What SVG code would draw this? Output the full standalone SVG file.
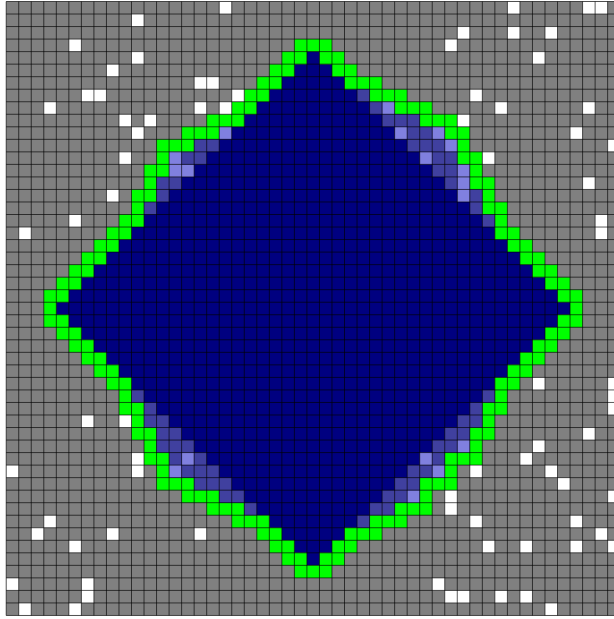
<svg xmlns="http://www.w3.org/2000/svg" width="614" height="619" viewBox="0 0 614 619">
<style>
.bg{fill:#fff}
.gray{fill:#808080}
.n{fill:#000080}
.g{fill:#00ff00}
.s{fill:#40409f}
.l{fill:#8080df}
.w{fill:#fff}
.grid{fill:none;stroke:#000;stroke-opacity:0.65;stroke-width:1}
</style>
<rect class="bg" x="0" y="0" width="614" height="619"/>
<g id="board" transform="translate(6.2,1.5) scale(12.53)">
<rect id="field" class="gray" x="0" y="0" width="49" height="49"/>
<path id="interior" class="n" d="M24 4h1v1h-1z M23 5h3v1h-3z M22 6h5v1h-5z M21 7h8v1h-8z M20 8h11v1h-11z M19 9h14v1h-14z M17 10h18v1h-18z M15 11h21v1h-21z M13 12h23v1h-23z M13 13h24v1h-24z M12 14h25v1h-25z M12 15h26v1h-26z M11 16h27v1h-27z M11 17h28v1h-28z M10 18h29v1h-29z M9 19h31v1h-31z M8 20h33v1h-33z M7 21h35v1h-35z M6 22h37v1h-37z M5 23h39v1h-39z M4 24h41v1h-41z M5 25h39v1h-39z M6 26h37v1h-37z M7 27h35v1h-35z M8 28h33v1h-33z M9 29h31v1h-31z M10 30h29v1h-29z M10 31h29v1h-29z M11 32h27v1h-27z M11 33h27v1h-27z M12 34h25v1h-25z M12 35h25v1h-25z M13 36h22v1h-22z M13 37h22v1h-22z M15 38h18v1h-18z M17 39h16v1h-16z M19 40h12v1h-12z M21 41h8v1h-8z M22 42h5v1h-5z M23 43h3v1h-3z M24 44h1v1h-1z"/>
<path id="border" class="g" d="M23 3h3v1h-3z
M22 4h2v1h-2z M25 4h2v1h-2z
M21 5h2v1h-2z M26 5h2v1h-2z
M20 6h2v1h-2z M27 6h3v1h-3z
M19 7h2v1h-2z M29 7h3v1h-3z
M18 8h2v1h-2z M31 8h3v1h-3z
M16 9h3v1h-3z M33 9h3v1h-3z
M14 10h3v1h-3z M35 10h2v1h-2z
M12 11h3v1h-3z M36 11h1v1h-1z
M12 12h1v1h-1z M36 12h2v1h-2z
M11 13h2v1h-2z M37 13h1v1h-1z
M11 14h1v1h-1z M37 14h2v1h-2z
M10 15h2v1h-2z M38 15h1v1h-1z
M10 16h1v1h-1z M38 16h2v1h-2z
M9 17h2v1h-2z M39 17h1v1h-1z
M8 18h2v1h-2z M39 18h2v1h-2z
M7 19h2v1h-2z M40 19h2v1h-2z
M6 20h2v1h-2z M41 20h2v1h-2z
M5 21h2v1h-2z M42 21h2v1h-2z
M4 22h2v1h-2z M43 22h2v1h-2z
M3 23h2v1h-2z M44 23h2v1h-2z
M3 24h1v1h-1z M45 24h1v1h-1z
M3 25h2v1h-2z M44 25h2v1h-2z
M4 26h2v1h-2z M43 26h2v1h-2z
M5 27h2v1h-2z M42 27h2v1h-2z
M6 28h2v1h-2z M41 28h2v1h-2z
M7 29h2v1h-2z M40 29h2v1h-2z
M8 30h2v1h-2z M39 30h2v1h-2z
M9 31h1v1h-1z M39 31h1v1h-1z
M9 32h2v1h-2z M38 32h2v1h-2z
M10 33h1v1h-1z M38 33h1v1h-1z
M10 34h2v1h-2z M37 34h2v1h-2z
M11 35h1v1h-1z M37 35h1v1h-1z
M11 36h2v1h-2z M35 36h3v1h-3z
M12 37h1v1h-1z M35 37h1v1h-1z
M12 38h3v1h-3z M33 38h3v1h-3z
M14 39h3v1h-3z M33 39h1v1h-1z
M16 40h3v1h-3z M31 40h3v1h-3z
M18 41h3v1h-3z M29 41h3v1h-3z
M20 42h2v1h-2z M27 42h3v1h-3z
M21 43h2v1h-2z M26 43h2v1h-2z
M22 44h2v1h-2z M25 44h2v1h-2z
M23 45h3v1h-3z"/>
<path id="band-dark" class="s" d="M28 7h1v1h-1z M29 8h1v1h-1z M30 9h3v1h-3z M32 10h2v1h-2z M15 11h2v1h-2z M32 11h3v1h-3z M14 12h2v1h-2z M34 12h2v1h-2z M34 13h2v1h-2z M12 14h2v1h-2z M35 14h1v1h-1z M12 15h1v1h-1z M37 15h1v1h-1z M11 16h1v1h-1z M37 16h1v1h-1z M38 17h1v1h-1z
M10 31h1v1h-1z M38 31h1v1h-1z M11 32h1v1h-1z M37 32h1v1h-1z M11 33h2v1h-2z M36 33h2v1h-2z M12 34h2v1h-2z M35 34h2v1h-2z M12 35h3v1h-3z M34 35h2v1h-2z M13 36h1v1h-1z M15 36h1v1h-1z M34 36h1v1h-1z M14 37h3v1h-3z M32 37h2v1h-2z M15 38h3v1h-3z M31 38h2v1h-2z M17 39h2v1h-2z M30 39h2v1h-2z M19 40h1v1h-1z M29 40h2v1h-2z M28 41h1v1h-1z"/>
<path id="band-light" class="l" d="M30 8h1v1h-1z M17 10h1v1h-1z M31 10h1v1h-1z M34 10h1v1h-1z M35 11h1v1h-1z M13 12h1v1h-1z M33 12h1v1h-1z M13 13h2v1h-2z M36 13h1v1h-1z M36 14h1v1h-1z M36 15h1v1h-1z M36 35h1v1h-1z M14 36h1v1h-1z M33 36h1v1h-1z M13 37h1v1h-1z M34 37h1v1h-1z M32 39h1v1h-1z"/>
<path id="free" class="w" d="M17 0h1v1h-1z M40 0h1v1h-1z M46 0h2v1h-2z
M10 1h1v1h-1z
M36 2h1v1h-1z M40 2h1v1h-1z M43 2h1v1h-1z
M5 3h1v1h-1z M35 3h1v1h-1z
M10 4h1v1h-1z M42 4h1v1h-1z
M8 5h1v1h-1z
M15 6h2v1h-2z
M6 7h2v1h-2z M18 7h1v1h-1z M37 7h1v1h-1z
M3 8h1v1h-1z M15 8h1v1h-1z M17 8h1v1h-1z M39 8h1v1h-1z M46 8h1v1h-1z
M9 9h1v1h-1z M11 9h1v1h-1z M36 9h1v1h-1z
M10 10h1v1h-1z M45 10h1v1h-1z
M48 11h1v1h-1z
M9 12h1v1h-1z M38 12h1v1h-1z
M46 14h1v1h-1z
M8 15h1v1h-1z
M5 17h1v1h-1z M47 17h1v1h-1z
M1 18h1v1h-1z M47 18h1v1h-1z
M42 30h1v1h-1z M48 30h1v3h-1z
M6 33h1v1h-1z M9 33h1v1h-1z
M46 34h1v1h-1z
M42 35h1v1h-1z
M10 36h1v1h-1z M41 36h1v1h-1z
M0 37h1v1h-1z M10 37h1v1h-1z M37 37h1v1h-1z M43 37h1v1h-1z
M44 38h1v1h-1z
M35 39h1v1h-1z M48 39h1v1h-1z
M35 40h1v1h-1z
M3 41h1v1h-1z M37 41h1v1h-1z M45 41h1v1h-1z
M2 42h1v1h-1z M8 42h1v1h-1z M15 42h1v1h-1z M47 42h1v1h-1z
M5 43h1v1h-1z M38 43h1v1h-1z M41 43h1v1h-1z M45 43h1v1h-1z M48 43h1v1h-1z
M0 46h1v1h-1z M6 46h1v1h-1z M34 46h1v1h-1z
M6 47h1v1h-1z M35 47h2v1h-2z M39 47h1v1h-1z M41 47h1v1h-1z
M1 48h1v1h-1z M5 48h1v1h-1z M43 48h1v1h-1z"/>
<path id="gridlines" class="grid" vector-effect="non-scaling-stroke" d="M0 0V49M1 0V49M2 0V49M3 0V49M4 0V49M5 0V49M6 0V49M7 0V49M8 0V49M9 0V49M10 0V49M11 0V49M12 0V49M13 0V49M14 0V49M15 0V49M16 0V49M17 0V49M18 0V49M19 0V49M20 0V49M21 0V49M22 0V49M23 0V49M24 0V49M25 0V49M26 0V49M27 0V49M28 0V49M29 0V49M30 0V49M31 0V49M32 0V49M33 0V49M34 0V49M35 0V49M36 0V49M37 0V49M38 0V49M39 0V49M40 0V49M41 0V49M42 0V49M43 0V49M44 0V49M45 0V49M46 0V49M47 0V49M48 0V49M49 0V49M0 0H49M0 1H49M0 2H49M0 3H49M0 4H49M0 5H49M0 6H49M0 7H49M0 8H49M0 9H49M0 10H49M0 11H49M0 12H49M0 13H49M0 14H49M0 15H49M0 16H49M0 17H49M0 18H49M0 19H49M0 20H49M0 21H49M0 22H49M0 23H49M0 24H49M0 25H49M0 26H49M0 27H49M0 28H49M0 29H49M0 30H49M0 31H49M0 32H49M0 33H49M0 34H49M0 35H49M0 36H49M0 37H49M0 38H49M0 39H49M0 40H49M0 41H49M0 42H49M0 43H49M0 44H49M0 45H49M0 46H49M0 47H49M0 48H49M0 49H49"/>
</g>
</svg>
